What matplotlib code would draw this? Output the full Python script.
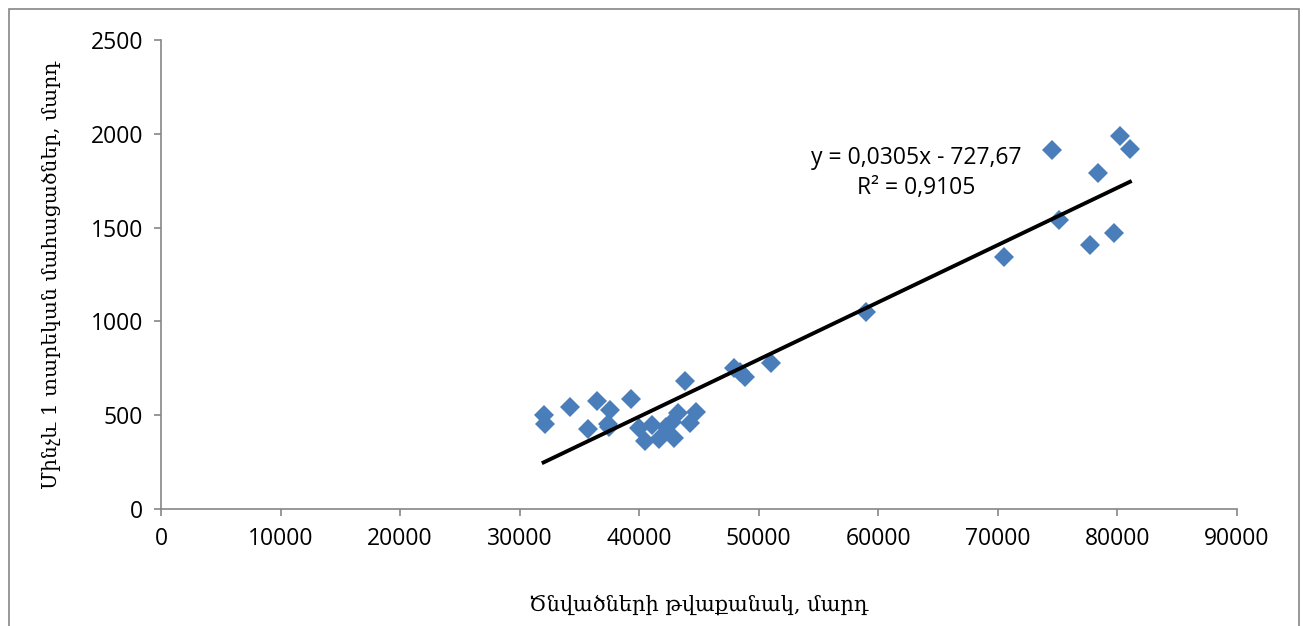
import numpy as np
import matplotlib.pyplot as plt
from matplotlib.patches import Rectangle

# births (x) vs infant deaths under 1 year (y)
births = [32000, 32100, 34200, 35700, 36500, 37550, 37400, 37500,
          39300, 40000, 40500, 41100, 41650, 42250, 42750, 42900,
          43250, 43850, 44250, 44750, 47950, 48450, 48850, 51050,
          58950, 70500, 74500, 75100, 77700, 78400, 79750, 80250, 81050]
deaths = [500, 455, 545, 428, 576, 528, 455, 437,
          586, 432, 362, 448, 373, 437, 464, 380,
          512, 682, 458, 517, 752, 730, 704, 778,
          1050, 1343, 1914, 1540, 1407, 1791, 1471, 1990, 1919]

slope = 0.0305
intercept = -727.67
r2 = 0.9105

plt.rcParams['font.family'] = ['Open Sans', 'DejaVu Sans']

fig = plt.figure(figsize=(13.03, 6.26), dpi=100)
ax = fig.add_axes([0.1236, 0.1869, 0.8257, 0.7492])

ax.plot(births, deaths, 'D', color='#4a7ebb', markersize=10, markeredgewidth=0, zorder=3)

xs = np.array([min(births), max(births)])
ax.plot(xs, slope * xs + intercept, color='black', linewidth=2.8, zorder=4)

ax.text(63200, 1871, 'y = 0,0305x - 727,67', ha='center', va='center', fontsize=16.5)
ax.text(63200, 1711, 'R² = 0,9105', ha='center', va='center', fontsize=16.5)

ax.set_xlim(0, 90000)
ax.set_ylim(0, 2500)
ax.set_xticks(range(0, 90001, 10000))
ax.set_yticks(range(0, 2501, 500))

for s in ['top', 'right']:
    ax.spines[s].set_visible(False)
for s in ['left', 'bottom']:
    ax.spines[s].set_color('#868686')
    ax.spines[s].set_linewidth(1.2)
ax.tick_params(colors='#868686', labelcolor='black', length=5, width=1.2, labelsize=16.5)
ax.tick_params(axis='y', pad=8)
ax.tick_params(axis='x', pad=8)

serif = ['DejaVu Serif', 'DejaVu Sans']
ax.set_xlabel('Ծնվածների թվաքանակ, մարդ', family=serif, fontsize=15, labelpad=31)
ax.set_ylabel('Մինչև 1 տարեկան մահացածներ, մարդ', family=serif, fontsize=14.6, labelpad=21)

fig.add_artist(Rectangle((9 / 1303, -0.05), 1290 / 1303, 1.05 - 9 / 626,
                         transform=fig.transFigure, fill=False,
                         edgecolor='#868686', linewidth=1.2))

fig.savefig('out.png', dpi=100)
